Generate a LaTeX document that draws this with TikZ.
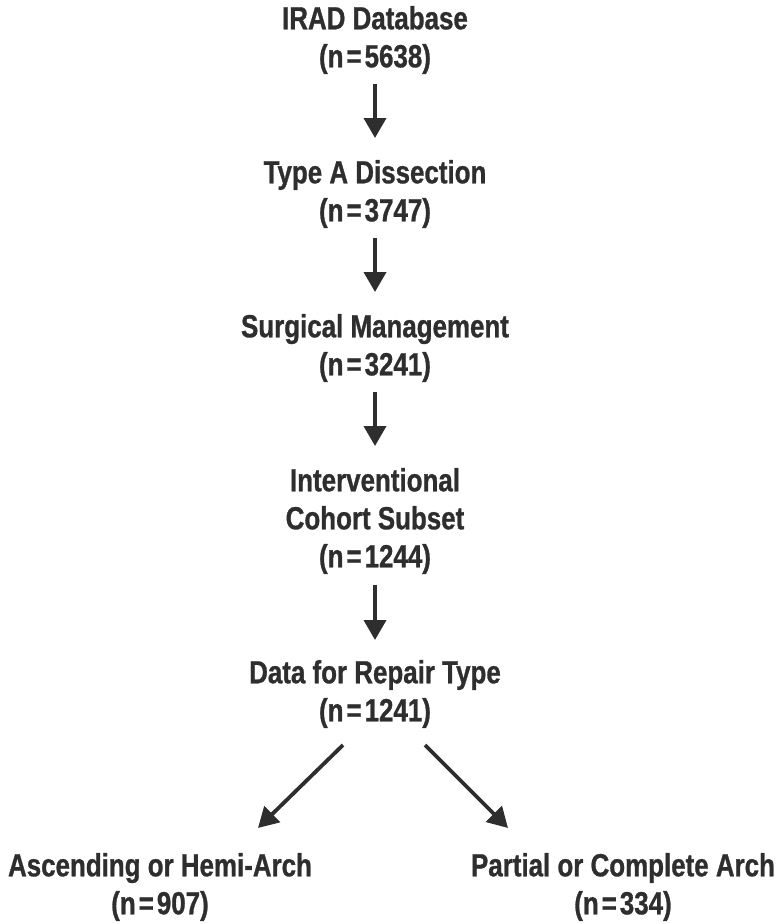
\documentclass[tikz,border=0pt]{standalone}
\usepackage{fontspec}
\setmainfont{Liberation Sans}[FakeStretch=0.81, BoldFeatures={FakeBold=0.9}]
\usepackage{tikz}
\usetikzlibrary{positioning, arrows.meta, calc}
\definecolor{cText}{HTML}{2E2E2E}
\newcommand{\eqs}{\kern3pt=\kern3pt}

\tikzset{
  label/.style={font=\bfseries\fontsize{32}{38}\selectfont, text=cText,
                align=center, inner sep=0pt},
  arr/.style={draw=cText, line width=3.8pt,
              -{Triangle[width=22pt,length=20pt]}},
}

\begin{document}
\begin{tikzpicture}[x=1pt, y=-1pt]
  \useasboundingbox (0,0) rectangle (782,924);
  % main chain
  \node[label] (irad)   at (375,40)  {IRAD Database\\(n\eqs 5638)};
  \node[label] (typea)  at (375,194) {Type A Dissection\\(n\eqs 3747)};
  \node[label] (surg)   at (375,348) {Surgical Management\\(n\eqs 3241)};
  \node[label] (interv) at (375,521) {Interventional\\Cohort Subset\\(n\eqs 1244)};
  \node[label] (repair) at (375,694) {Data for Repair Type\\(n\eqs 1241)};
  % split by repair type
  \node[label] (asc)     at (160,887) {Ascending or Hemi-Arch\\(n\eqs 907)};
  \node[label] (partial) at (623,887) {Partial or Complete Arch\\(n\eqs 334)};

  \draw[arr] (irad.south |- 0,84)    -- (typea.north |- 0,138);
  \draw[arr] (typea.south |- 0,238)  -- (surg.north |- 0,292);
  \draw[arr] (surg.south |- 0,392)   -- (interv.north |- 0,446);
  \draw[arr] (interv.south |- 0,585) -- (repair.north |- 0,640);
  \draw[arr] ([xshift=-32pt]repair.south |- 0,745) -- ([xshift=98pt]asc.north |- 0,828);
  \draw[arr] ([xshift=50pt]repair.south |- 0,745) -- ([xshift=-115pt]partial.north |- 0,828);
\end{tikzpicture}
\end{document}
